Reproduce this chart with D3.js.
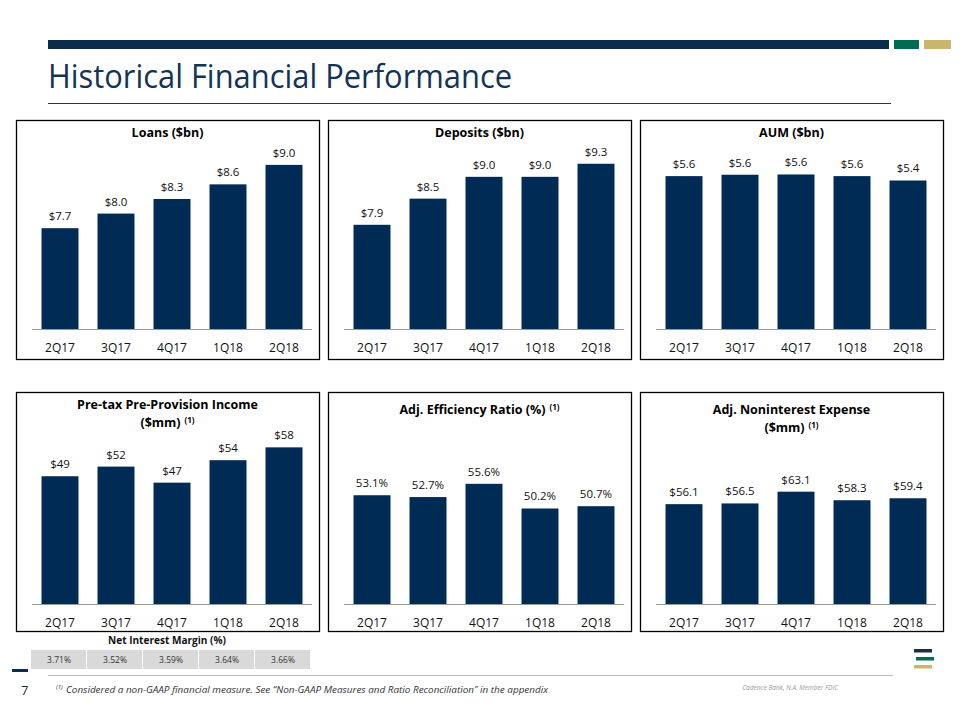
<!DOCTYPE html>
<html>
<head>
<meta charset="utf-8">
<script src="https://cdn.jsdelivr.net/npm/d3@7/dist/d3.min.js"></script>
<style>
  html, body { margin: 0; padding: 0; background: #ffffff; }
  svg { display: block; }
  text { font-family: "Open Sans", "Noto Sans", sans-serif; }
</style>
</head>
<body>
<svg id="chart" width="960" height="720"></svg>
<script>
// ---------- data ----------
const categories = ["2Q17", "3Q17", "4Q17", "1Q18", "2Q18"];
const loans = [7.7, 8.0, 8.3, 8.6, 9.0];
const deposits = [7.9, 8.5, 9.0, 9.0, 9.3];
const aum = [5.58, 5.63, 5.64, 5.58, 5.42];
const pretaxIncome = [49, 52, 47, 54, 58];
const efficiencyRatio = [53.1, 52.7, 55.6, 50.2, 50.7];
const nonintExpense = [56.1, 56.5, 63.1, 58.3, 59.4];
const netInterestMargin = ["3.71%", "3.52%", "3.59%", "3.64%", "3.66%"];

const pageTitle = "Historical Financial Performance";
const footnote = "Considered a non-GAAP financial measure. See \u201cNon-GAAP Measures and Ratio Reconciliation\u201d in the appendix";

// ---------- style ----------
const NAVY = "#0b2d52";
const BAR = "#002b54";
const GREEN = "#006b50";
const GOLD = "#c9b56e";

const svg = d3.select("#chart");

// header
svg.append("rect").attr("x", 48).attr("y", 40).attr("width", 841).attr("height", 9).attr("fill", "#0c2c4c");
svg.append("rect").attr("x", 894).attr("y", 40).attr("width", 25).attr("height", 9).attr("fill", GREEN);
svg.append("rect").attr("x", 924).attr("y", 40).attr("width", 27).attr("height", 9).attr("fill", GOLD);
svg.append("text").attr("x", 48).attr("y", 88)
  .attr("font-size", 33).attr("fill", "#123456")
  .attr("textLength", 464).attr("lengthAdjust", "spacingAndGlyphs")
  .text(pageTitle);
svg.append("line").attr("x1", 48).attr("x2", 891).attr("y1", 103.5).attr("y2", 103.5)
  .attr("stroke", "#333").attr("stroke-width", 1);

// panels
const panels = [
  { x: 16,  y: 120, h: 239, axisY: 329, data: loans, lo: 5.63, k: 48.7,
    title: [["Loans ($bn)", false]], titleY: [137], fmt: v => "$" + v.toFixed(1) },
  { x: 328, y: 120, h: 239, axisY: 329, data: deposits, lo: 5.51, k: 43.6,
    title: [["Deposits ($bn)", false]], titleY: [137], fmt: v => "$" + v.toFixed(1) },
  { x: 640, y: 120, h: 239, axisY: 329, data: aum, lo: 0, k: 27.4,
    title: [["AUM ($bn)", false]], titleY: [137], fmt: v => "$" + v.toFixed(1) },
  { x: 16,  y: 392, h: 239, axisY: 604, data: pretaxIncome, lo: 9.2, k: 3.21,
    title: [["Pre-tax Pre-Provision Income", false], ["($mm)", true]], titleY: [409, 427],
    fmt: v => "$" + Math.round(v) },
  { x: 328, y: 392, h: 239, axisY: 604, data: efficiencyRatio, lo: 29.3, k: 4.57,
    title: [["Adj. Efficiency Ratio (%)", true]], titleY: [414], fmt: v => v.toFixed(1) + "%" },
  { x: 640, y: 392, h: 239, axisY: 604, data: nonintExpense, lo: 0, k: 1.78,
    title: [["Adj. Noninterest Expense", false], ["($mm)", true]], titleY: [414, 432],
    fmt: v => "$" + v.toFixed(1) }
];

const W = 303;

panels.forEach(p => {
  const g = svg.append("g").attr("transform", `translate(${p.x},${p.y})`);
  g.append("rect").attr("x", 0.5).attr("y", 0.5).attr("width", W).attr("height", p.h)
    .attr("fill", "none").attr("stroke", "#000").attr("stroke-width", 1.3);

  const x = d3.scaleBand().domain(categories).range([16, 296]).paddingInner(0.34).paddingOuter(0.17);
  const ay = p.axisY - p.y;
  const y = d3.scaleLinear().domain([p.lo, p.lo + 200 / p.k]).range([ay, ay - 200]);

  // title
  p.title.forEach((t, i) => {
    const tx = g.append("text").attr("x", W / 2).attr("y", p.titleY[i] - p.y)
      .attr("text-anchor", "middle").attr("font-size", 12.5).attr("font-weight", "bold")
      .attr("fill", "#000");
    tx.append("tspan").text(t[0]);
    if (t[1]) {
      tx.append("tspan").attr("font-size", 8).attr("dy", -4).attr("dx", 4).text("(1)");
    }
  });

  // bars
  g.selectAll("rect.bar").data(p.data).join("rect").attr("class", "bar")
    .attr("x", (d, i) => x(categories[i])).attr("width", x.bandwidth())
    .attr("y", d => y(d)).attr("height", d => ay - y(d)).attr("fill", BAR);

  // value labels
  g.selectAll("text.val").data(p.data).join("text").attr("class", "val")
    .attr("x", (d, i) => x(categories[i]) + x.bandwidth() / 2)
    .attr("y", d => y(d) - 8).attr("text-anchor", "middle")
    .attr("font-size", 11.5).attr("fill", "#111").text(p.fmt);

  // axis
  const axis = d3.axisBottom(x).tickSize(0).tickPadding(14);
  const ag = g.append("g").attr("transform", `translate(0,${ay})`).call(axis);
  ag.select(".domain").attr("stroke", "#999").attr("d", `M16,0.5H296`);
  ag.selectAll("text").attr("font-size", 12).attr("fill", "#111")
    .attr("font-family", "'Open Sans', 'Noto Sans', sans-serif");
});

// Net interest margin table
{
  const x = d3.scaleBand().domain(categories).range([31, 311]);
  svg.append("text").attr("x", 167).attr("y", 644).attr("text-anchor", "middle")
    .attr("font-size", 10).attr("font-weight", "bold").attr("fill", "#111")
    .attr("textLength", 118).attr("lengthAdjust", "spacingAndGlyphs")
    .text("Net Interest Margin (%)");
  svg.selectAll("rect.nim").data(netInterestMargin).join("rect").attr("class", "nim")
    .attr("x", (d, i) => x(categories[i])).attr("width", x.bandwidth() - 1)
    .attr("y", 650).attr("height", 19).attr("fill", "#d9d9d9");
  svg.selectAll("text.nim").data(netInterestMargin).join("text").attr("class", "nim")
    .attr("x", (d, i) => x(categories[i]) + x.bandwidth() / 2).attr("y", 663)
    .attr("text-anchor", "middle").attr("font-size", 8.5).attr("fill", "#333").text(d => d);
}

// footer
svg.append("rect").attr("x", 12).attr("y", 669).attr("width", 16).attr("height", 3).attr("fill", NAVY);
svg.append("line").attr("x1", 48).attr("x2", 893).attr("y1", 675.5).attr("y2", 675.5)
  .attr("stroke", "#bbb").attr("stroke-width", 1);
svg.append("text").attr("x", 21).attr("y", 695).attr("font-size", 13).attr("fill", NAVY).text("7");
{
  svg.append("text").attr("x", 56).attr("y", 689).attr("font-size", 6)
    .attr("font-style", "italic").attr("fill", "#333").text("(1)");
  svg.append("text").attr("x", 66).attr("y", 693).attr("font-size", 9.5)
    .attr("font-style", "italic").attr("fill", "#333")
    .attr("textLength", 482).attr("lengthAdjust", "spacingAndGlyphs")
    .text(footnote);
}
svg.append("text").attr("x", 838).attr("y", 690).attr("text-anchor", "end")
  .attr("font-size", 6.5).attr("font-style", "italic").attr("fill", "#999")
  .text("Cadence Bank, N.A. Member FDIC");
// logo
svg.append("rect").attr("x", 914).attr("y", 649).attr("width", 18).attr("height", 3.5).attr("fill", "#1a2f45");
svg.append("rect").attr("x", 916).attr("y", 657).attr("width", 18).attr("height", 3.5).attr("fill", GREEN);
svg.append("rect").attr("x", 914).attr("y", 665).attr("width", 18).attr("height", 3.5).attr("fill", GOLD);
</script>
</body>
</html>
